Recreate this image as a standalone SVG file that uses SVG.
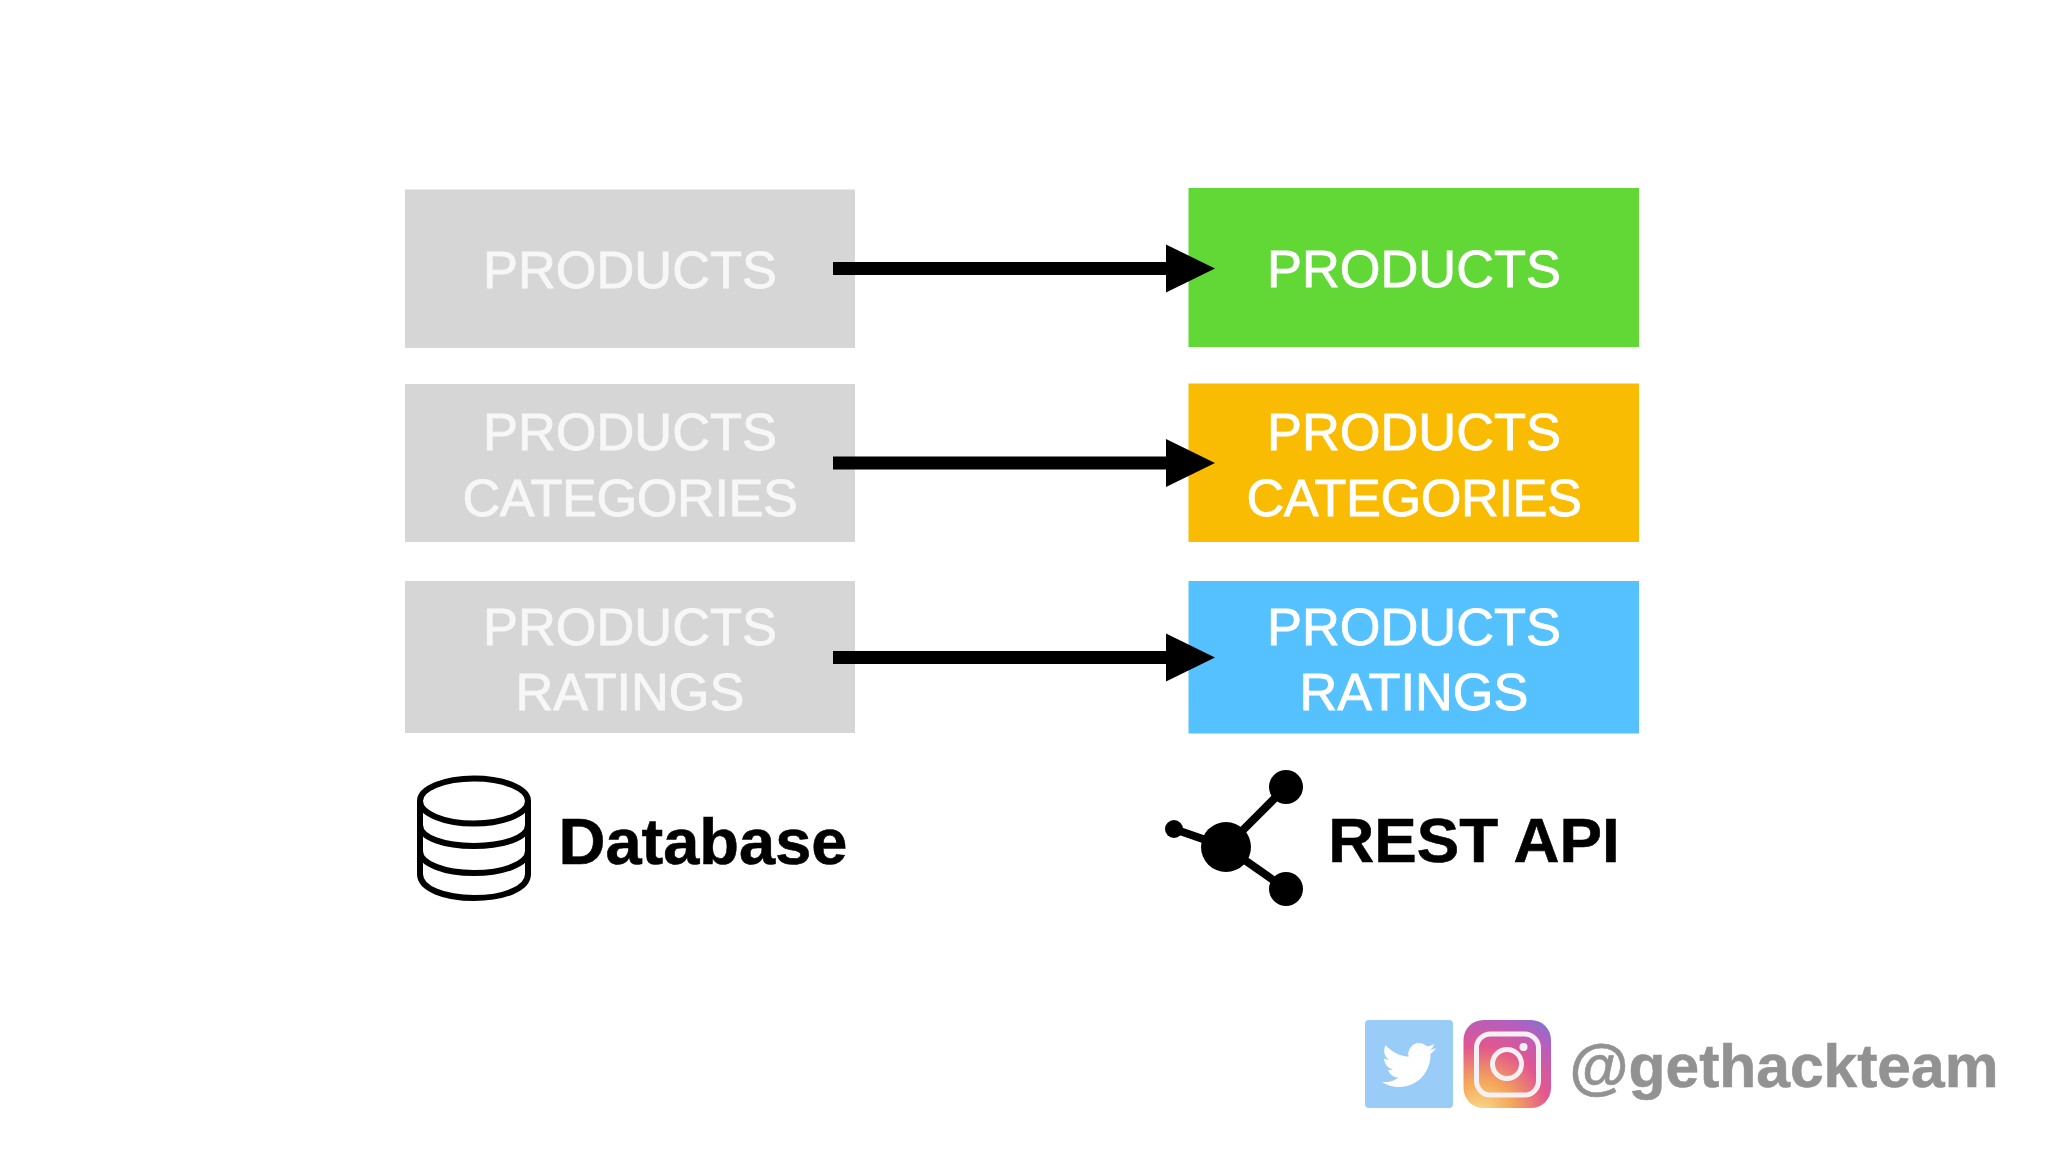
<svg xmlns="http://www.w3.org/2000/svg" width="2048" height="1152" viewBox="0 0 2048 1152">
<defs>
<radialGradient id="ig" gradientUnits="userSpaceOnUse" cx="1480" cy="1115" r="115">
<stop offset="0" stop-color="#f9e08f"/><stop offset="0.3" stop-color="#f4a65a"/><stop offset="0.6" stop-color="#e2568f"/><stop offset="0.85" stop-color="#b35fc0"/><stop offset="1" stop-color="#7a78d0"/>
</radialGradient>
<polygon id="head" points="0,-24 49,0 0,24"/>
</defs>
<style>
text{font-family:"Liberation Sans",Arial,sans-serif;text-anchor:middle}
.l{font-size:52.4px;fill:#fff;stroke:#fff;stroke-width:.8px}
.g .l{fill:#f7f7f7;stroke:#f7f7f7}
.c{letter-spacing:-.45px}
.b{font-weight:bold;fill:#000;stroke:#000;stroke-width:.6px}
.gr{fill:#d6d6d6}
.ic{fill:none;stroke:#000;stroke-width:6}
.sh{stroke:#000;stroke-width:13}
</style>
<rect width="2048" height="1152" fill="#fff"/>
<g id="db-products" class="g"><rect class="gr" x="405" y="189.500" width="450" height="158.500"/><text class="l" x="630" y="288">PRODUCTS</text></g>
<g id="db-categories" class="g"><rect class="gr" x="405" y="384" width="450" height="158"/><text class="l" x="630" y="450">PRODUCTS</text><text class="l c" x="630" y="516">CATEGORIES</text></g>
<g id="db-ratings" class="g"><rect class="gr" x="405" y="581" width="450" height="152"/><text class="l" x="630" y="645">PRODUCTS</text><text class="l" x="630" y="709.500">RATINGS</text></g>
<g id="api-products"><rect fill="#61d836" x="1188.500" y="188" width="450.500" height="159"/><text class="l" x="1414" y="287">PRODUCTS</text></g>
<g id="api-categories"><rect fill="#fabc02" x="1188.500" y="383.500" width="450.500" height="158.500"/><text class="l" x="1414" y="450">PRODUCTS</text><text class="l c" x="1414" y="516">CATEGORIES</text></g>
<g id="api-ratings"><rect fill="#56c1ff" x="1188.500" y="581" width="450.500" height="152.500"/><text class="l" x="1414" y="645">PRODUCTS</text><text class="l" x="1414" y="709.500">RATINGS</text></g>
<g id="connectors">
<line class="sh" x1="833" y1="268.500" x2="1170" y2="268.500"/><use href="#head" x="1166" y="268.500"/>
<line class="sh" x1="833" y1="463" x2="1170" y2="463"/><use href="#head" x="1166" y="463"/>
<line class="sh" x1="833" y1="657.500" x2="1170" y2="657.500"/><use href="#head" x="1166" y="657.500"/>
</g>
<g id="database">
<g class="ic"><ellipse cx="474" cy="801" rx="54" ry="22.500"/><path d="M420 801V874C420 889 445 898 474 898S528 889 528 874V801"/><path d="M420 825C420 838 445 846 474 846S528 838 528 825"/><path d="M420 851C420 864 445 873 474 873S528 864 528 851"/></g>
<text class="b" x="703" y="864" font-size="65">Database</text>
</g>
<g id="rest-api">
<g stroke="#000" stroke-width="8"><line x1="1226" y1="847" x2="1286" y2="787"/><line x1="1226" y1="847" x2="1286" y2="889"/><line x1="1226" y1="847" x2="1174" y2="829"/></g>
<circle cx="1226" cy="847" r="25"/><circle cx="1286" cy="787" r="17"/><circle cx="1286" cy="889" r="17"/><circle cx="1174" cy="829" r="9"/>
<text class="b" x="1474" y="862" font-size="63.700">REST API</text>
</g>
<g id="social">
<rect x="1365" y="1020" width="88" height="88" rx="4" fill="#99cdf7"/>
<path transform="translate(1382 1038) scale(2.25)" fill="#fff" d="M23.953 4.57a10 10 0 01-2.825.775 4.958 4.958 0 002.163-2.723c-.951.555-2.005.959-3.127 1.184a4.92 4.92 0 00-8.384 4.482C7.69 8.095 4.067 6.13 1.64 3.162a4.822 4.822 0 00-.666 2.475c0 1.71.87 3.213 2.188 4.096a4.904 4.904 0 01-2.228-.616v.06a4.923 4.923 0 003.946 4.827 4.996 4.996 0 01-2.212.085 4.936 4.936 0 004.604 3.417 9.867 9.867 0 01-6.102 2.105c-.39 0-.779-.023-1.17-.067a13.995 13.995 0 007.557 2.209c9.053 0 13.998-7.496 13.998-13.985 0-.21 0-.42-.015-.63A9.935 9.935 0 0024 4.59z"/>
<rect x="1463.500" y="1020" width="87.500" height="88" rx="20" fill="url(#ig)"/>
<rect x="1476.500" y="1034" width="62" height="61" rx="14" fill="none" stroke="#f5f0f3" stroke-width="5"/>
<circle cx="1507" cy="1064" r="14.500" fill="none" stroke="#f5f0f3" stroke-width="5"/>
<circle cx="1523.500" cy="1047" r="4" fill="#f5f0f3"/>
<text class="b" x="1784" y="1087" font-size="60.500" style="fill:#929292;stroke:#929292">@gethackteam</text>
</g>
</svg>
